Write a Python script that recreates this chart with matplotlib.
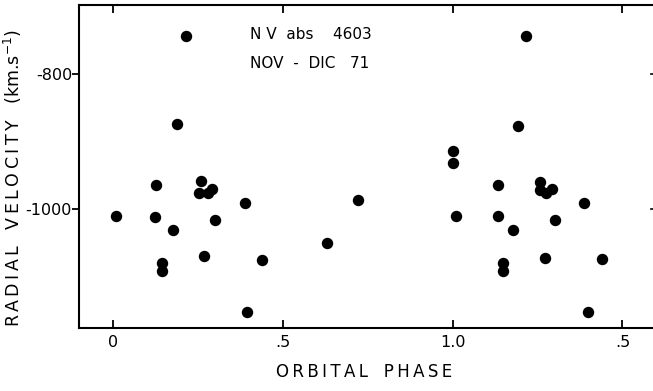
import matplotlib
matplotlib.use("Agg")
import matplotlib.pyplot as plt

# phase / radial velocity (km/s)
phase_a = [0.008, 0.214, 0.189, 0.126, 0.124, 0.176, 0.145, 0.143, 0.257,
           0.254, 0.278, 0.292, 0.299, 0.268, 0.388, 0.437, 0.394]
vel_a = [-1010, -744, -874, -964, -1011, -1030, -1079, -1091, -958,
         -975, -975, -969, -1016, -1069, -990, -1074, -1151]

phase_mid = [0.629, 0.721]
vel_mid = [-1050, -986]

phase_b = [1.216, 1.193, 1.001, 1.001, 1.132, 1.009, 1.132, 1.179, 1.147,
           1.147, 1.258, 1.258, 1.276, 1.294, 1.300, 1.272, 1.388, 1.439, 1.400]
vel_b = [-744, -876, -914, -931, -964, -1010, -1010, -1031, -1079,
         -1091, -959, -971, -975, -969, -1015, -1072, -991, -1073, -1151]

xticks = [0, 0.5, 1.0, 1.5]
xticklabels = ["0", ".5", "1.0", ".5"]
yticks = [-800, -1000]
yticklabels = ["-800", "-1000"]


def spaced(s):
    # wide letter spacing like the old stencil lettering
    return "\u2009".join(s)


plt.rcParams['font.family'] = ['DejaVu Sans']

fig = plt.figure(figsize=(6.53, 3.91), dpi=100)
W, H = 653, 391
ax = fig.add_axes([79 / W, 1 - 328 / H, (655 - 79) / W, (328 - 5) / H])

ax.plot(phase_a, vel_a, 'o', color='black', ms=7.2)
ax.plot(phase_mid, vel_mid, 'o', color='black', ms=7.2)
ax.plot(phase_b, vel_b, 'o', color='black', ms=7.2)

ax.set_xlim(-0.101, 1.596)
ax.set_ylim(-1175, -698)

for s in ax.spines.values():
    s.set_linewidth(1.5)

ax.set_xticks(xticks)
ax.set_xticklabels(xticklabels, fontsize=11.5)
ax.set_yticks(yticks)
ax.set_yticklabels(yticklabels, fontsize=11.5)
ax.tick_params(axis='x', direction='in', length=6, width=1.3, top=True, pad=5)
ax.tick_params(axis='y', direction='out', length=5, width=1.3, right=False, pad=0)

# small inward marks on the (cut-off) right side
for v in yticks:
    ax.plot([1.585, 1.596], [v, v], color='black', lw=1.2, clip_on=False)

ax.text(0.402, -741, "N V  abs    4603", fontsize=11, va='center')
ax.text(0.402, -784, "NOV  -  DIC   71", fontsize=11, va='center')

ax.set_xlabel(spaced("ORBITAL") + "   " + spaced("PHASE"), fontsize=12)
ax.set_ylabel(spaced("RADIAL") + "   " + spaced("VELOCITY") + "   (km.s$^{-1}$)",
              fontsize=12.5)
ax.xaxis.set_label_coords(0.495, -0.108)
ax.yaxis.set_label_coords(-0.0955, 0.464)

fig.savefig("out.png", dpi=100)
